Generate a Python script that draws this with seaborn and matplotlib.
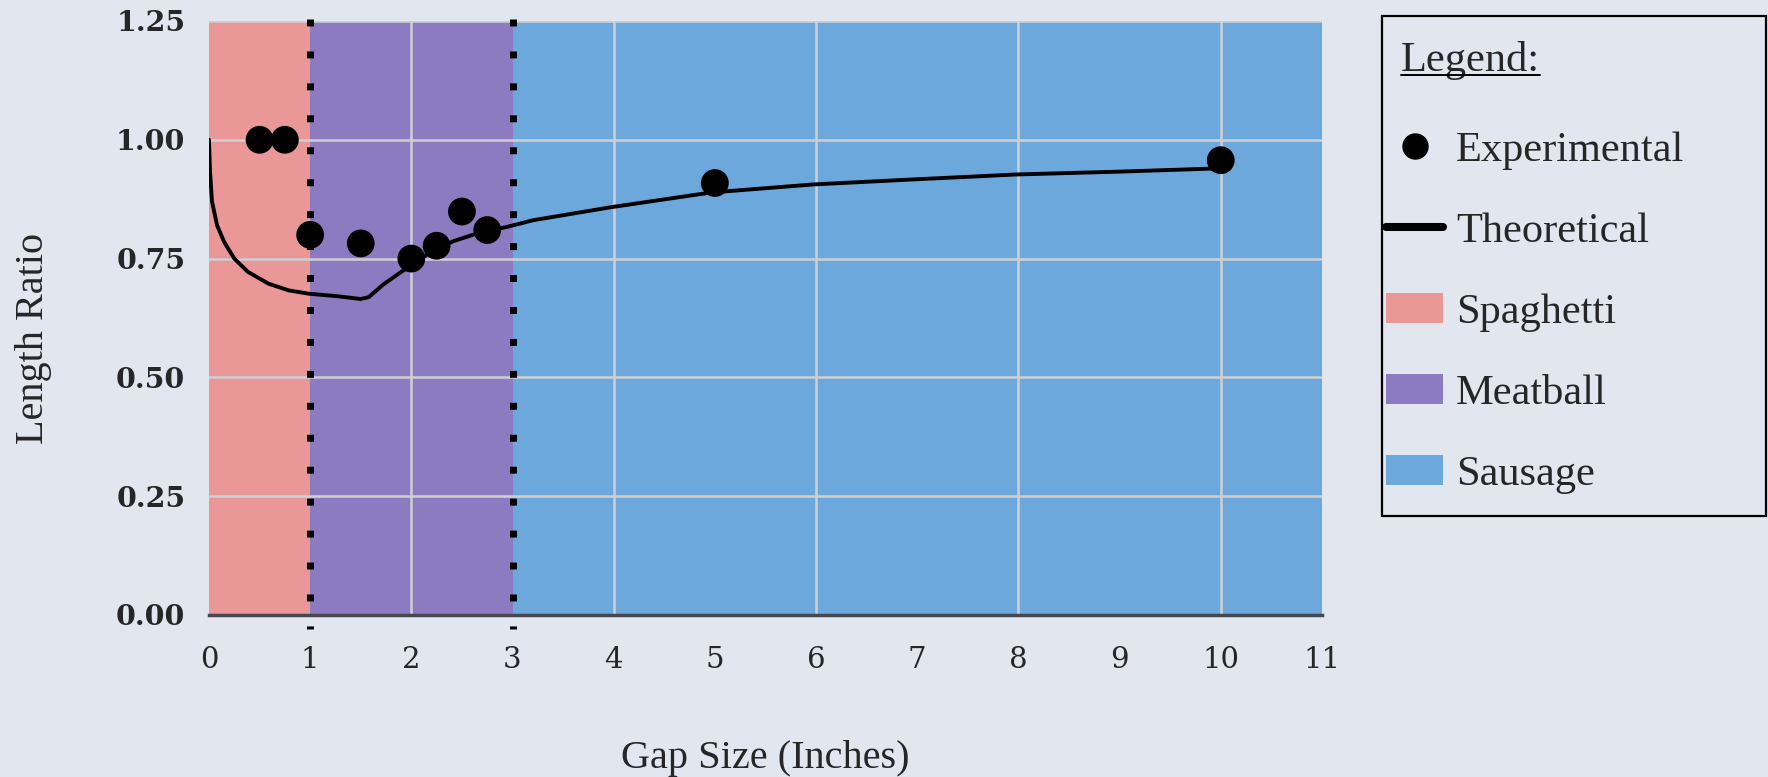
import matplotlib
matplotlib.use('Agg')
import matplotlib.pyplot as plt
import seaborn as sns
from matplotlib.lines import Line2D
from matplotlib.patches import Patch, Rectangle

# Experimental measurements
gap_exp = [0.5, 0.75, 1.0, 1.5, 2.0, 2.25, 2.5, 2.75, 5.0, 10.0]
ratio_exp = [1.0, 1.0, 0.80, 0.782, 0.75, 0.777, 0.849, 0.81, 0.909, 0.957]

# Theoretical curve
gap_theo = [0.0, 0.01, 0.03, 0.08, 0.15, 0.25, 0.385, 0.59, 0.79, 0.99, 1.26, 1.5,
            1.58, 1.72, 1.92, 2.22, 2.42, 2.65, 2.95, 3.21, 3.97, 4.96, 5.97, 7.0,
            7.98, 9.0, 10.0]
ratio_theo = [1.0, 0.933, 0.870, 0.82, 0.785, 0.75, 0.722, 0.697, 0.683, 0.676, 0.671, 0.665,
              0.669, 0.695, 0.725, 0.768, 0.787, 0.803, 0.817, 0.831, 0.858, 0.889, 0.906, 0.917,
              0.927, 0.933, 0.940]

# Flow regimes
regimes = ['Spaghetti', 'Meatball', 'Sausage']
regime_bounds = [(0, 1), (1, 3), (3, 11)]
regime_colors = ['#E99797', '#8D7BC1', '#6DA8DC']
boundaries = [1, 3]

x_ticks = list(range(12))
y_ticks = [0.0, 0.25, 0.5, 0.75, 1.0, 1.25]

bg = '#E2E6EF'
grid_c = '#CFD0D4'

sns.set_style('white', rc={'figure.facecolor': bg, 'axes.facecolor': bg})
plt.rcParams['font.family'] = ['Liberation Serif', 'DejaVu Serif']

fig = plt.figure(figsize=(17.68, 7.77), dpi=100)
ax = fig.add_axes([0.1182, 0.2085, 0.6295, 0.7645])

# regime backgrounds and grid
for (lo, hi), c in zip(regime_bounds, regime_colors):
    ax.axvspan(lo, hi, color=c, lw=0, zorder=0)
for y in y_ticks[1:]:
    ax.axhline(y, color=grid_c, lw=1.8, zorder=1)
for x in x_ticks[2::2]:
    ax.axvline(x, color=grid_c, lw=1.8, zorder=1)

# regime boundaries
for b in boundaries:
    ax.plot([b, b], [1.255, -0.03], color='black', lw=5, dashes=(1, 3.6),
            dash_capstyle='butt', clip_on=False, zorder=3)

sns.lineplot(x=gap_theo, y=ratio_theo, color='black', lw=2.8, estimator=None,
             ax=ax, zorder=4)
sns.scatterplot(x=gap_exp, y=ratio_exp, color='black', s=400, edgecolor='none',
                ax=ax, zorder=5)

ax.set_xlim(0, 11)
ax.set_ylim(0, 1.25)
ax.set_xticks(x_ticks)
ax.set_xticklabels([str(v) for v in x_ticks], family='DejaVu Serif', fontsize=21)
ax.set_yticks(y_ticks)
ax.set_yticklabels([f'{v:.2f}' for v in y_ticks], family='DejaVu Serif',
                   fontsize=20.5, fontweight='bold')
ax.tick_params(axis='x', length=0, pad=22)
ax.tick_params(axis='y', length=0, pad=17)
ax.grid(False)

for s in ['left', 'top', 'right']:
    ax.spines[s].set_visible(False)
ax.spines['bottom'].set_color('#46474F')
ax.spines['bottom'].set_linewidth(2.5)
ax.spines['bottom'].set_zorder(6)

ax.set_xlabel('Gap Size (Inches)', fontsize=29)
ax.set_ylabel('Length Ratio', fontsize=29)
ax.xaxis.set_label_coords(0.5, -0.241)
ax.yaxis.set_label_coords(-0.158, 0.466)
ax.xaxis.label.set_va('center')
ax.yaxis.label.set_va('center')

# Legend box and heading
fig.add_artist(Rectangle((1382 / 1768, 1 - 516 / 777), 384 / 1768, 500 / 777,
                         transform=fig.transFigure, fill=False, ec='black', lw=1.6))
title = fig.text(1401 / 1768, 1 - 60 / 777, 'Legend:', fontsize=30.5,
                 family='Liberation Serif', va='center', ha='left')

handles = [
    Line2D([], [], marker='o', color='black', linestyle='None', markersize=18),
    Line2D([], [], color='black', lw=5.8),
] + [Patch(facecolor=c, edgecolor='none') for c in regime_colors]
labels = ['Experimental', 'Theoretical'] + regimes

leg = fig.legend(handles, labels, loc='upper left',
                 bbox_to_anchor=(0.7817, 0.8366), borderaxespad=0,
                 prop={'family': 'Liberation Serif', 'size': 30.5},
                 frameon=False, handlelength=1.34,
                 handletextpad=0.3, labelspacing=1.0, borderpad=0.1)

# underline the legend heading
fig.canvas.draw()
bb = title.get_window_extent(fig.canvas.get_renderer())
inv = fig.transFigure.inverted()
(ux0, uy), (ux1, _) = inv.transform([(bb.x0, bb.y0 + 5), (bb.x1, bb.y0 + 5)])
fig.add_artist(Line2D([ux0, ux1], [uy, uy], color='black', lw=1.4,
                      transform=fig.transFigure, zorder=10))

fig.savefig('out.png', dpi=100, facecolor=bg)
